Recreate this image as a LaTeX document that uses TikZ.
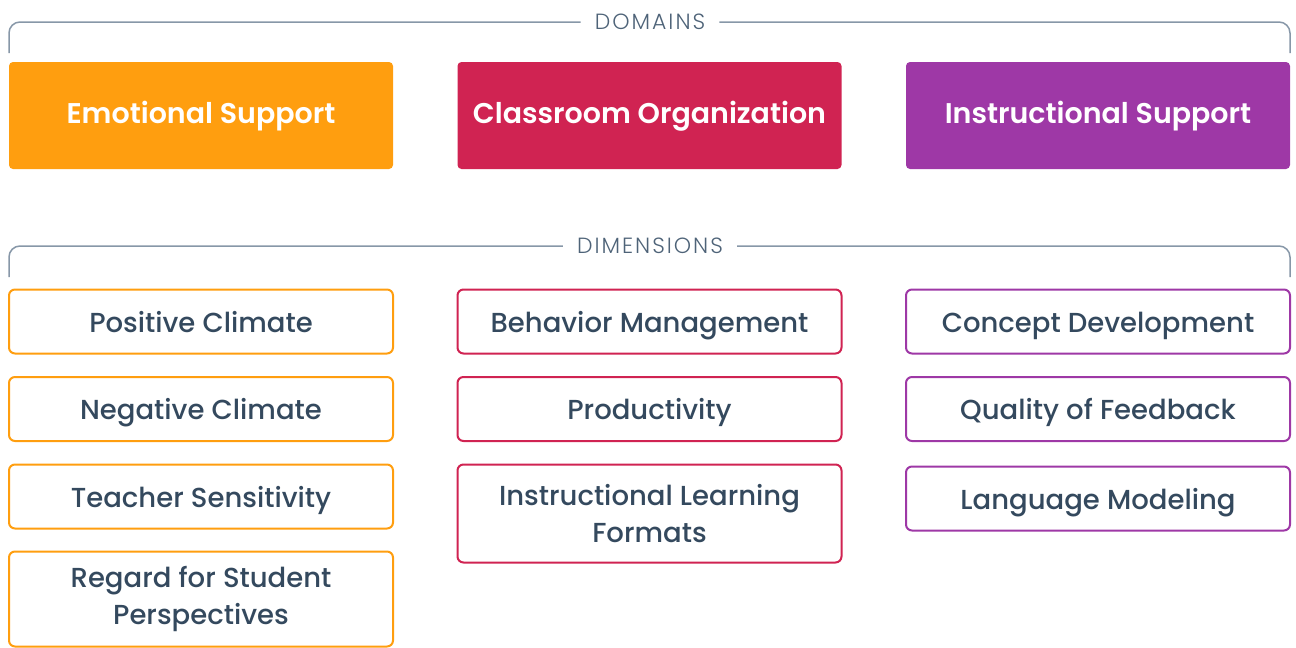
\documentclass[tikz,border=0pt]{standalone}
\usepackage{fontspec}
\setmainfont{Poppins}
\newfontfamily\titlefont{Poppins SemiBold}
\newfontfamily\dimfont{Poppins Medium}
\newfontfamily\headfont{Poppins Light}[LetterSpace=9]
\definecolor{esc}{HTML}{FF9E0F}
\definecolor{coc}{HTML}{D02352}
\definecolor{isc}{HTML}{9E38A6}
\definecolor{txt}{HTML}{34495E}
\definecolor{brk}{HTML}{8797A8}
\definecolor{lbl}{HTML}{4E6378}
\begin{document}
\begin{tikzpicture}[x=1pt,y=-1pt,
  domainbox/.style={rectangle,rounded corners=4pt,minimum width=384pt,minimum height=107pt,inner sep=0pt,text=white,text height=17pt,text depth=2pt,font=\fontsize{28.5}{30}\titlefont},
  dimbox/.style={rectangle,rounded corners=6pt,line width=2pt,draw=#1,fill=white,minimum width=384pt,inner sep=0pt,text=txt,align=center,font=\fontsize{27.5}{37}\dimfont},
  oneline/.style={text height=24pt,text depth=2.8pt,minimum height=64pt},
  bracket/.style={draw=brk,line width=1.5pt,rounded corners=11pt},
  head/.style={text=lbl,font=\fontsize{22}{24}\headfont,inner sep=0pt}]
\useasboundingbox (0,0) rectangle (1296,648);
% headings
\node[head] (domh) at (650,22) {DOMAINS};
\coordinate (dL) at (9,53);
\coordinate (dR) at (1290,53);
\draw[bracket] (dL) |- ([xshift=-14pt]domh.west);
\draw[bracket] ([xshift=14pt]domh.east) -| (dR);
\node[head] (dimh) at (650,246) {DIMENSIONS};
\coordinate (mL) at (9,277);
\coordinate (mR) at (1290,277);
\draw[bracket] (mL) |- ([xshift=-14pt]dimh.west);
\draw[bracket] ([xshift=14pt]dimh.east) -| (mR);
% domains
\node[domainbox,fill=esc] (es) at (201,115.5) {Emotional Support};
\node[domainbox,fill=coc] (co) at (649.5,115.5) {Classroom Organization};
\node[domainbox,fill=isc] (is) at (1098,115.5) {Instructional Support};
% dimensions col 1
\node[dimbox=esc,oneline] (pc) at (201,321.5) {Positive Climate};
\node[dimbox=esc,oneline] (nc) at (201,409) {Negative Climate};
\node[dimbox=esc,oneline] (ts) at (201,496.5) {Teacher Sensitivity};
\node[dimbox=esc,minimum height=95pt] (rs) at (201,599) {Regard for Student\\Perspectives};
% col 2
\node[dimbox=coc,oneline] (bm) at (649.5,321.5) {Behavior Management};
\node[dimbox=coc,oneline] (pr) at (649.5,409) {Productivity};
\node[dimbox=coc,minimum height=98pt] (il) at (649.5,513.5) {Instructional Learning\\Formats};
% col 3
\node[dimbox=isc,oneline] (cd) at (1098,321.5) {Concept Development};
\node[dimbox=isc,oneline] (qf) at (1098,409) {Quality of Feedback};
\node[dimbox=isc,oneline] (lm) at (1098,498.5) {Language Modeling};
\end{tikzpicture}
\end{document}
